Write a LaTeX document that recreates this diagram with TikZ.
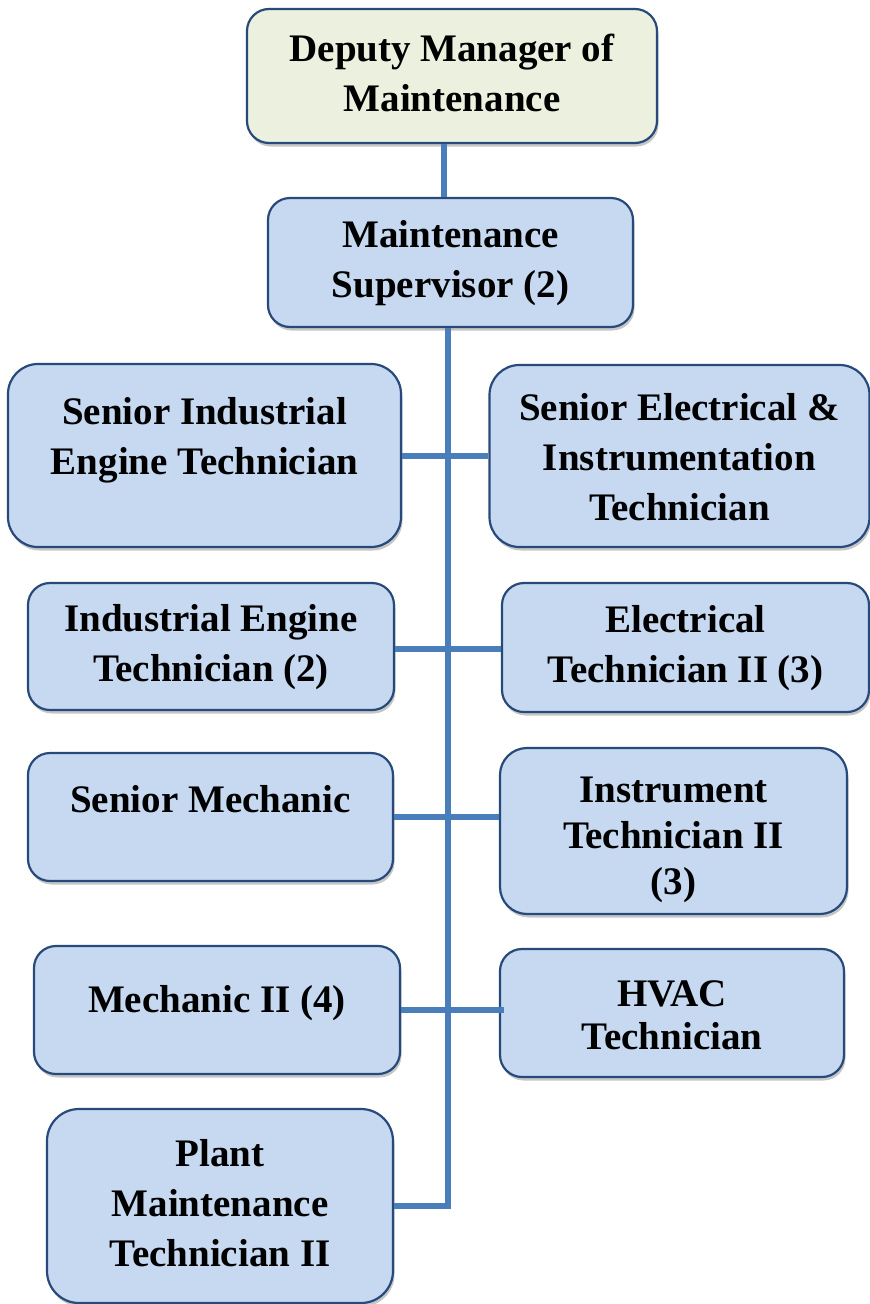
\documentclass[tikz,border=0pt]{standalone}
\usepackage{fontspec}
\setmainfont{Liberation Serif}
\usepackage{tikz}
\usetikzlibrary{shadows}

\definecolor{boxfill}{RGB}{198,217,241}
\definecolor{topfill}{RGB}{235,241,222}
\definecolor{boxline}{RGB}{40,74,122}
\definecolor{linkblue}{RGB}{74,126,187}

\begin{document}
\begin{tikzpicture}[x=1pt, y=-1pt,
    box/.style={rectangle, rounded corners=#1, draw=boxline, line width=2.2pt,
                fill=boxfill, inner sep=0pt, align=center,
                font=\fontsize{39}{50}\selectfont\bfseries,
                text height=26pt, text depth=8pt,
                drop shadow={shadow xshift=1.5pt, shadow yshift=-3.5pt,
                             fill=black!50, opacity=.45}},
    box/.default=22pt,
    two/.style={text height=78pt},
    three/.style={text height=128pt},
    link/.style={draw=linkblue, line width=6pt}]
  \useasboundingbox (0,0) rectangle (870,1304);
  % top
  \node[box, two, fill=topfill, minimum width=410pt, minimum height=134pt] (dep) at (452,76)
        {Deputy Manager of\\Maintenance};
  \node[box, two, minimum width=365pt, minimum height=129pt] (sup) at (450.5,262.5)
        {Maintenance\\Supervisor (2)};
  % row 1
  \node[box=30pt, two, minimum width=393pt, minimum height=183pt, text depth=40pt] (sie) at (204.5,455.5)
        {Senior Industrial\\Engine Technician};
  \node[box=30pt, minimum width=380pt, minimum height=182pt, text height=137pt] (see) at (679.5,456)
        {Senior Electrical \&\\Instrumentation\\Technician};
  % row 2
  \node[box, two, minimum width=366pt, minimum height=127pt] (ie) at (211,646.5)
        {Industrial Engine\\Technician (2)};
  \node[box, two, minimum width=367pt, minimum height=129pt] (el) at (685.5,647.5)
        {Electrical\\Technician II (3)};
  % row 3
  \node[box, minimum width=365pt, minimum height=128pt, text depth=36pt] (sm) at (210.5,817)
        {Senior Mechanic};
  \node[box=27pt, minimum width=347pt, minimum height=166pt, text height=134pt] (it) at (673.5,831)
        {Instrument\\[-4pt]Technician II\\[-4pt](3)};
  % row 4
  \node[box, minimum width=366pt, minimum height=128pt, text depth=22pt] (m2) at (217,1010)
        {Mechanic II (4)};
  \node[box, minimum width=344pt, minimum height=128pt, text height=81pt] (hv) at (672,1013)
        {HVAC\\[-7pt]Technician};
  % row 5
  \node[box=32pt, three, minimum width=346pt, minimum height=194pt] (pl) at (220,1206)
        {Plant\\Maintenance\\Technician II};

  % links
  \coordinate (stem)  at (444,0);
  \coordinate (trunk) at (448,0);
  \draw[link] (stem |- dep.south) -- (stem |- sup.north);
  \draw[link] (trunk |- sup.south) -- (trunk |- pl.east) -- (pl.east);
  \draw[link] (sie.east) -- (sie.east -| see.west);
  \draw[link] ([yshift=-2pt]ie.east) -- ([yshift=-2pt]ie.east -| el.west);
  \draw[link] (sm.east) -- (sm.east -| it.west);
  \draw[link] (m2.east) -- ([xshift=5pt]m2.east -| hv.west);
\end{tikzpicture}
\end{document}
